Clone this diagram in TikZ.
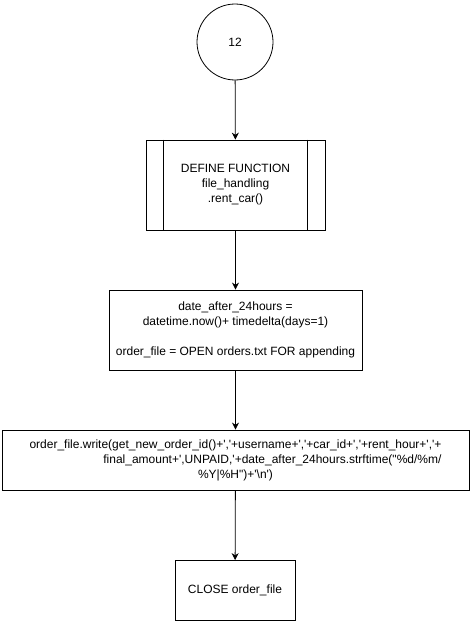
\documentclass[tikz,border=0pt]{standalone}
\usepackage{fontspec}
\setmainfont{Liberation Sans}[Ligatures=TeXOff]
\usetikzlibrary{arrows.meta}
\begin{document}
\begin{tikzpicture}[x=1pt,y=-1pt,
  every node/.style={font=\fontsize{12}{15}\selectfont, inner sep=0pt, align=center},
  boxstyle/.style={draw=black, line width=0.8pt, rectangle},
  conn/.style={draw=black, line width=0.8pt, -{Stealth[length=7pt,width=7pt]}}]
\useasboundingbox (0,0) rectangle (471,621);
\node[circle, draw=black, line width=0.8pt, minimum size=76pt] (c) at (235,42) {12};
\node[boxstyle, minimum width=179pt, minimum height=90pt] (f) at (235.5,185) {DEFINE FUNCTION\\file\_handling\\.rent\_car()};
\draw[line width=0.8pt] ([xshift=18pt]f.north west) -- ([xshift=18pt]f.south west);
\draw[line width=0.8pt] ([xshift=-18pt]f.north east) -- ([xshift=-18pt]f.south east);
\node[boxstyle, minimum width=253pt, minimum height=80pt] (d) at (235.5,330) {date\_after\_24hours =\\datetime.now()+ timedelta(days=1)\\[15pt]order\_file = OPEN orders.txt FOR appending};
\node[boxstyle, minimum width=467pt, minimum height=60pt] (w) at (235.5,460) {\begin{tabular}{@{}c@{}}\begin{tabular}{@{}r@{}}order\_file.write(get\_new\_order\_id()+','+username+','+car\_id+','+rent\_hour+','+\\final\_amount+',UNPAID,'+date\_after\_24hours.strftime("\%d/\%m/\end{tabular}\\\%Y|\%H")+'\textbackslash n')\end{tabular}};
\node[boxstyle, minimum width=120pt, minimum height=60pt] (e) at (235,590.5) {CLOSE order\_file};
\draw[conn] (c) -- (f);
\draw[conn] (f) -- (d);
\draw[conn] (d) -- (w);
\draw[conn] (w) -- (e);
\end{tikzpicture}
\end{document}
